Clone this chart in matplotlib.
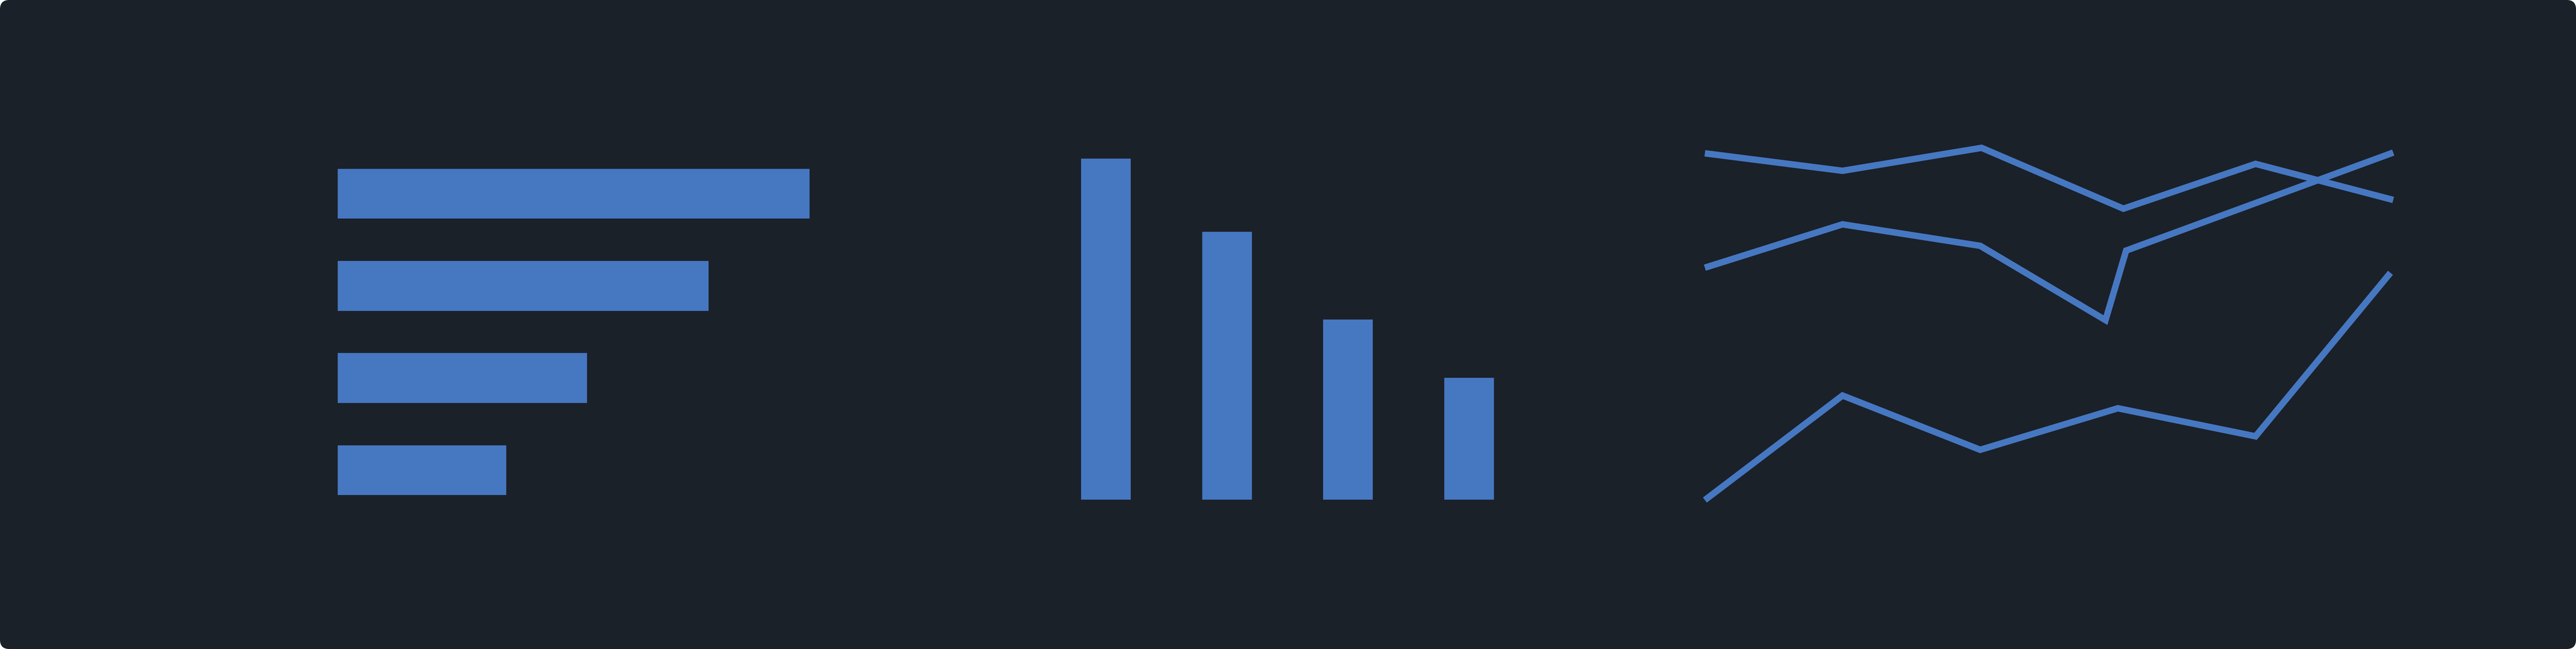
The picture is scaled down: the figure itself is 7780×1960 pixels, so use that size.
import matplotlib
matplotlib.use('Agg')
import matplotlib.pyplot as plt
from matplotlib.patches import FancyBboxPatch

# 数据
bar_values = [28, 22, 14.8, 10]          # 横向条形 / 纵向柱形 共用
bar_cats = [0, 1, 2, 3]

line_x1 = [0, 1, 2.01, 3.04, 4, 5]
line_y1 = [97.0, 92.2, 98.5, 81.8, 94.1, 84.2]
line_x2 = [0, 1, 2, 2.91, 3.06, 5]
line_y2 = [65.6, 77.5, 71.6, 51.2, 70.3, 97.2]
line_x3 = [0, 1, 2, 3, 4, 4.98]
line_y3 = [1.8, 30.5, 15.6, 27.0, 19.3, 64.2]

bg = '#1b2129'
blue = '#4677c1'

W, H = 7780, 1960
fig = plt.figure(figsize=(W / 100, H / 100), dpi=100, facecolor='white')


def px_axes(x0, y0, x1, y1):
    # 像素坐标(左上为原点)转成 figure 比例
    return fig.add_axes([x0 / W, 1 - y1 / H, (x1 - x0) / W, (y1 - y0) / H])


# 圆角背景
ax_bg = fig.add_axes([0, 0, 1, 1])
ax_bg.set_xlim(0, W)
ax_bg.set_ylim(H, 0)
ax_bg.axis('off')
ax_bg.add_patch(FancyBboxPatch((0, 0), W, H, boxstyle='round,pad=0,rounding_size=28',
                               fc=bg, ec='none'))

# 横向条形
ax1 = px_axes(1020, 446, 2445, 1559)
ax1.barh(bar_cats, bar_values, height=0.54, color=blue)
ax1.set_xlim(0, 28)
ax1.set_ylim(3.5, -0.5)
ax1.axis('off')

# 纵向柱形
ax2 = px_axes(3157, 479, 4620, 1509)
ax2.bar(bar_cats, bar_values, width=0.41, color=blue)
ax2.set_xlim(-0.5, 3.5)
ax2.set_ylim(0, 28)
ax2.axis('off')

# 折线
ax3 = px_axes(5149, 430, 7228, 1530)
for xs, ys in [(line_x1, line_y1), (line_x2, line_y2), (line_x3, line_y3)]:
    ax3.plot(xs, ys, color=blue, lw=14, solid_joinstyle='miter',
             solid_capstyle='butt', clip_on=False)
ax3.set_xlim(0, 5)
ax3.set_ylim(0, 100)
ax3.axis('off')

plt.savefig('out.png', dpi=100, facecolor='white')
